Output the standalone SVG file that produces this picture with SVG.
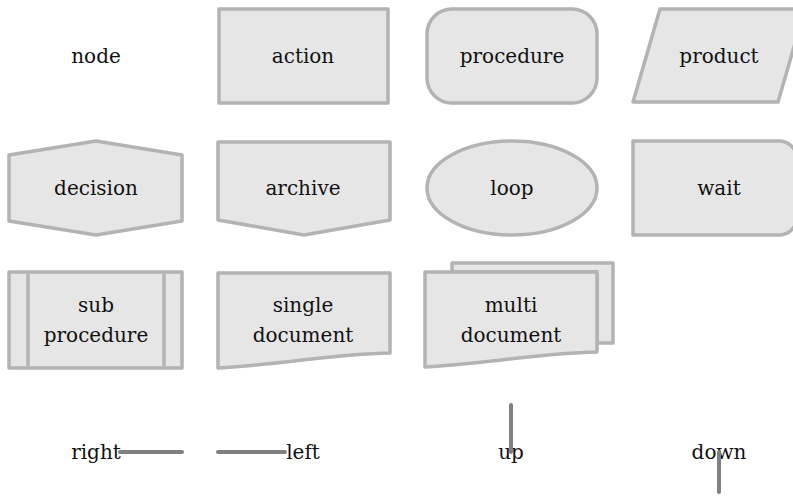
<svg xmlns="http://www.w3.org/2000/svg" width="793" height="500" viewBox="0 0 793 500">
<style>
.s{fill:#e6e6e6;stroke:#b3b3b3;stroke-width:3.5;stroke-linejoin:round}
.t{font-family:"DejaVu Serif",serif;font-size:20px;fill:#111;text-anchor:middle}
.c{stroke:#808080;stroke-width:4;stroke-linecap:round;fill:none}
</style>
<rect width="793" height="500" fill="#fff"/>
<g id="node"><text class="t" x="96" y="63">node</text></g>
<g id="action"><rect class="s" x="219" y="9" width="169" height="94"/><text class="t" x="303" y="63">action</text></g>
<g id="procedure"><rect class="s" x="427" y="9" width="170" height="94" rx="25"/><text class="t" x="512" y="63">procedure</text></g>
<g id="product"><path class="s" d="M660,9 H805 L778,102 H633 Z"/><text class="t" x="719" y="63">product</text></g>
<g id="decision"><path class="s" d="M9,155 L96,141 L182,155 V221 L96,235 L9,221 Z"/><text class="t" x="96" y="195">decision</text></g>
<g id="archive"><path class="s" d="M218,142 H390 V220 L304,235 L218,220 Z"/><text class="t" x="303" y="195">archive</text></g>
<g id="loop"><ellipse class="s" cx="512" cy="188" rx="85" ry="47"/><text class="t" x="512" y="195">loop</text></g>
<g id="wait"><path class="s" d="M633,141 H779 A18,18 0 0 1 797,159 V217 A18,18 0 0 1 779,235 H633 Z"/><text class="t" x="719" y="195">wait</text></g>
<g id="subprocedure"><rect class="s" x="9" y="272" width="173" height="96"/><line x1="28" y1="272" x2="28" y2="368" stroke="#b3b3b3" stroke-width="3.5"/><line x1="164" y1="272" x2="164" y2="368" stroke="#b3b3b3" stroke-width="3.5"/><text class="t" x="96" y="312">sub</text><text class="t" x="96" y="342">procedure</text></g>
<g id="singledocument"><path class="s" d="M218,273 H390 V353 C330,354 290,364 218,368 Z"/><text class="t" x="303" y="312">single</text><text class="t" x="303" y="342">document</text></g>
<g id="multidocument"><path class="s" d="M452,263 H613 V343 H597 V272 H452 Z"/><path class="s" d="M425,272 H597 V352 C537,353 497,363 425,367 Z"/><text class="t" x="511" y="312">multi</text><text class="t" x="511" y="342">document</text></g>
<g id="right"><text class="t" x="96" y="459">right</text></g>
<g id="left"><text class="t" x="303" y="459">left</text></g>
<g id="up"><text class="t" x="511" y="459">up</text></g>
<g id="down"><text class="t" x="719" y="459">down</text></g>
<g id="connectors">
<line class="c" x1="120" y1="452" x2="182" y2="452"/>
<line class="c" x1="285" y1="452" x2="218" y2="452"/>
<line class="c" x1="511" y1="452" x2="511" y2="405"/>
<line class="c" x1="719" y1="452" x2="719" y2="492"/>
</g>
</svg>
